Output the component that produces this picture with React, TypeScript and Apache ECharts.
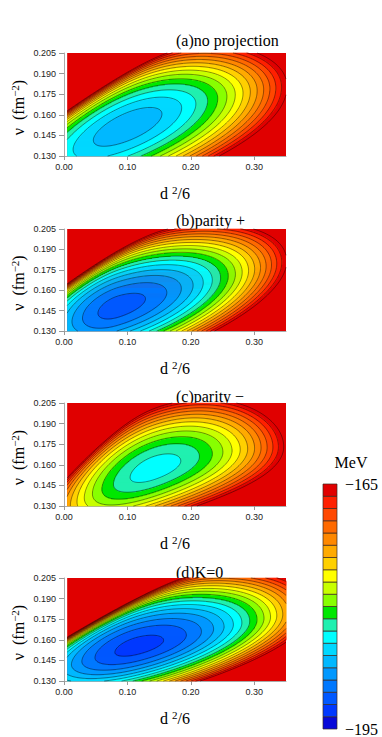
import React, { useEffect, useRef } from 'react';
import * as echarts from 'echarts';

// ---------- data ----------
const panelTitles = ['(a)no projection', '(b)parity +', '(c)parity \u2212', '(d)K=0'];
const xTicks = [0, 0.1, 0.2, 0.3];
const yTicks = [0.13, 0.145, 0.16, 0.175, 0.19, 0.205];
const colorbarTicks = [-195, -165];
const levelStart = -195;
const levelStep = 1.5;
const levelCount = 20;
// band colours from the lowest (-195) to the highest (-165) band
const bandColors = [
  '#0808d8', '#0038ff', '#0058ff', '#0078ff', '#0098ff', '#00b8ff', '#00d8ff', '#00ffff', '#20f0b0', '#00e800',
  '#88ff00', '#c8ff00', '#ffff00', '#ffd000', '#ffaa00', '#ff8800', '#ff6a00', '#ff4800', '#ff2000', '#e00000',
];
// energy-surface shape (a..d)
const minX = [0.101, 0.085, 0.142, 0.116];
const minY = [0.152, 0.1476, 0.157, 0.155];
const minE = [-187.0, -191.2, -183.8, -192.6];
const valleyLeftY = [0.133, 0.136, 0.1296, 0.142];
const valleyRightY = [0.18, 0.18, 0.173, 0.178];
const curvLeft = [330, 700, 560, 455];
const curvRight = [350, 370, 450, 355];
const stiffDown = [8300, 12300, 13200, 19000];
const stiffUp = [10000, 10500, 9500, 12000];
const wallY0 = [0.1498, 0.1502, 0.141, 0.1478];
const wallSlope = [0.317, 0.333, 0.45, 0.27];
const wallWidth = [0.005, 0.005, 0.005, 0.0045];
const domainX = [0.005, 0.35];
const domainY = [0.13, 0.205];

const SANS = '"Liberation Sans", Arial, sans-serif';
const SERIF = '"Liberation Serif", "Times New Roman", serif';

function valleyY(p: number, x: number) {
  const xa = 0.005, xb = minX[p], xc = 0.34;
  const ya = valleyLeftY[p], yb = minY[p], yc = valleyRightY[p];
  return (
    ya * ((x - xb) * (x - xc)) / ((xa - xb) * (xa - xc)) +
    yb * ((x - xa) * (x - xc)) / ((xb - xa) * (xb - xc)) +
    yc * ((x - xa) * (x - xb)) / ((xc - xa) * (xc - xb))
  );
}

function energy(p: number, x: number, y: number) {
  const u = x - minX[p];
  const v = y - valleyY(p, x);
  const a = u < 0 ? curvLeft[p] : curvRight[p];
  const b = v < 0 ? stiffDown[p] : stiffUp[p];
  const wall = Math.exp((y - wallY0[p] - wallSlope[p] * x) / wallWidth[p]);
  return minE[p] + a * u * u + b * v * v + wall;
}

function bandOf(e: number) {
  const b = Math.floor((e - levelStart) / levelStep);
  return Math.max(0, Math.min(levelCount - 1, b));
}

type Run = { x0: number; x1: number; y0: number; y1: number; b: number };

function buildRuns(p: number): Run[] {
  const NX = 330, NY = 103;
  const dx = (domainX[1] - domainX[0]) / NX;
  const dy = (domainY[1] - domainY[0]) / NY;
  const runs: Run[] = [];
  for (let j = 0; j < NY; j++) {
    const yc = domainY[0] + (j + 0.5) * dy;
    let start = 0;
    let cur = bandOf(energy(p, domainX[0] + 0.5 * dx, yc));
    for (let i = 1; i <= NX; i++) {
      const b = i < NX ? bandOf(energy(p, domainX[0] + (i + 0.5) * dx, yc)) : -1;
      if (b !== cur) {
        if (cur !== levelCount - 1) {
          runs.push({ x0: domainX[0] + start * dx, x1: domainX[0] + i * dx, y0: domainY[0] + j * dy, y1: domainY[0] + (j + 1) * dy, b: cur });
        }
        start = i;
        cur = b;
      }
    }
  }
  return runs;
}

function buildContours(p: number): number[][][] {
  const NX = 220, NY = 120;
  const xs: number[] = [], ys: number[] = [];
  for (let i = 0; i < NX; i++) xs.push(domainX[0] + (i * (domainX[1] - domainX[0])) / (NX - 1));
  for (let j = 0; j < NY; j++) ys.push(domainY[0] + (j * (domainY[1] - domainY[0])) / (NY - 1));
  const f: number[][] = ys.map((y) => xs.map((x) => energy(p, x, y)));
  const out: number[][][] = [];
  for (let l = 1; l <= levelCount; l++) {
    const level = levelStart + l * levelStep;
    const pts = new Map<string, number[]>();
    const segs: [string, string][] = [];
    const ep = (id: string, xa: number, ya: number, va: number, xb: number, yb: number, vb: number) => {
      if (!pts.has(id)) {
        const t = (level - va) / (vb - va);
        pts.set(id, [xa + t * (xb - xa), ya + t * (yb - ya)]);
      }
      return id;
    };
    for (let j = 0; j < NY - 1; j++) {
      for (let i = 0; i < NX - 1; i++) {
        const v0 = f[j][i], v1 = f[j][i + 1], v2 = f[j + 1][i + 1], v3 = f[j + 1][i];
        const c: string[] = [];
        if (v0 > level !== v1 > level) c.push(ep(`h${i},${j}`, xs[i], ys[j], v0, xs[i + 1], ys[j], v1));
        if (v1 > level !== v2 > level) c.push(ep(`v${i + 1},${j}`, xs[i + 1], ys[j], v1, xs[i + 1], ys[j + 1], v2));
        if (v3 > level !== v2 > level) c.push(ep(`h${i},${j + 1}`, xs[i], ys[j + 1], v3, xs[i + 1], ys[j + 1], v2));
        if (v0 > level !== v3 > level) c.push(ep(`v${i},${j}`, xs[i], ys[j], v0, xs[i], ys[j + 1], v3));
        if (c.length === 2) segs.push([c[0], c[1]]);
        else if (c.length === 4) {
          const m = (v0 + v1 + v2 + v3) / 4;
          if (m > level === v0 > level) {
            segs.push([c[0], c[1]]);
            segs.push([c[2], c[3]]);
          } else {
            segs.push([c[0], c[3]]);
            segs.push([c[1], c[2]]);
          }
        }
      }
    }
    const adj = new Map<string, number[]>();
    segs.forEach((s, idx) => {
      for (const e of s) {
        if (!adj.has(e)) adj.set(e, []);
        adj.get(e)!.push(idx);
      }
    });
    const used = new Array(segs.length).fill(false);
    const walk = (startEdge: string, chain: string[]) => {
      let cur = startEdge;
      for (;;) {
        const cand = (adj.get(cur) || []).find((t) => !used[t]);
        if (cand === undefined) break;
        used[cand] = true;
        const nxt = segs[cand][0] === cur ? segs[cand][1] : segs[cand][0];
        chain.push(nxt);
        cur = nxt;
      }
    };
    for (let s = 0; s < segs.length; s++) {
      if (used[s]) continue;
      used[s] = true;
      const fwd: string[] = [segs[s][1]];
      walk(segs[s][1], fwd);
      const bwd: string[] = [segs[s][0]];
      walk(segs[s][0], bwd);
      const chain = bwd.reverse().concat(fwd);
      out.push(chain.map((id) => pts.get(id)!));
    }
  }
  return out;
}

const gridBoxes = [
  { left: 64, top: 53, width: 222, height: 103 },
  { left: 64, top: 229, width: 222, height: 102 },
  { left: 64, top: 403, width: 222, height: 103 },
  { left: 64, top: 578, width: 222, height: 103 },
];
const titleY = [40.5, 220, 396, 572];

export default function App() {
  const ref = useRef<HTMLDivElement>(null);
  useEffect(() => {
    if (!ref.current) return;
    const chart = echarts.init(ref.current, undefined, { renderer: 'svg' });
    const panels = [0, 1, 2, 3].map((p) => ({ runs: buildRuns(p), lines: buildContours(p) }));

    const grids: any[] = gridBoxes.map((g) => ({ ...g }));
    grids.push({ left: 323, top: 484, width: 14, height: 251 });

    const xAxes: any[] = gridBoxes.map((_, i) => ({
      type: 'value', gridIndex: i, min: 0, max: 0.35,
      axisLine: { show: true, lineStyle: { color: '#aaa', width: 1 } },
      axisTick: { show: true, length: 4, customValues: xTicks, lineStyle: { color: '#999' } },
      axisLabel: { customValues: xTicks, formatter: (v: number) => v.toFixed(2), fontSize: 9, fontFamily: SANS, color: '#222', margin: 6 },
      splitLine: { show: false },
    }));
    xAxes.push({ type: 'value', gridIndex: 4, min: 0, max: 1, show: false });
    const yAxes: any[] = gridBoxes.map((_, i) => ({
      type: 'value', gridIndex: i, min: 0.13, max: 0.205,
      axisLine: { show: true, lineStyle: { color: '#aaa', width: 1 } },
      axisTick: { show: true, length: 5, customValues: yTicks, lineStyle: { color: '#999' } },
      axisLabel: { customValues: yTicks, formatter: (v: number) => v.toFixed(3), fontSize: 9, fontFamily: SANS, color: '#222', margin: 8 },
      splitLine: { show: false },
    }));
    yAxes.push({
      type: 'value', gridIndex: 4, min: -195, max: -165, position: 'right',
      axisLine: { show: false }, axisTick: { show: false }, splitLine: { show: false },
      axisLabel: { customValues: colorbarTicks, formatter: (v: number) => '\u2212' + Math.abs(v), fontSize: 16, fontFamily: SERIF, color: '#000', margin: 8 },
    });

    const series: any[] = panels.map((pd, p) => ({
      type: 'custom', xAxisIndex: p, yAxisIndex: p, silent: true, clip: false,
      data: [[minX[p], minY[p]]],
      renderItem: (params: any, api: any) => {
        const children: any[] = [];
        const tl = api.coord([domainX[0], domainY[1]]);
        const br = api.coord([domainX[1], domainY[0]]);
        children.push({ type: 'rect', shape: { x: tl[0], y: tl[1], width: br[0] - tl[0], height: br[1] - tl[1] }, style: { fill: bandColors[levelCount - 1] } });
        for (const r of pd.runs) {
          const a = api.coord([r.x0, r.y1]);
          const b = api.coord([r.x1, r.y0]);
          children.push({ type: 'rect', shape: { x: a[0], y: a[1] - 0.3, width: b[0] - a[0] + 0.4, height: b[1] - a[1] + 0.6 }, style: { fill: bandColors[r.b] } });
        }
        for (const line of pd.lines) {
          children.push({ type: 'polyline', shape: { points: line.map((pt) => api.coord(pt)) }, style: { stroke: '#000', fill: null, lineWidth: 0.5, opacity: 0.85 } });
        }
        return { type: 'group', children };
      },
    }));
    const bandLows = bandColors.map((_, i) => levelStart + i * levelStep);
    series.push({
      type: 'custom', xAxisIndex: 4, yAxisIndex: 4, silent: true,
      data: bandLows.map((lo, i) => [0, lo, i]),
      renderItem: (params: any, api: any) => {
        const lo = api.value(1);
        const i = api.value(2);
        const a = api.coord([0, lo + levelStep]);
        const b = api.coord([1, lo]);
        return { type: 'rect', shape: { x: a[0], y: a[1], width: b[0] - a[0], height: b[1] - a[1] }, style: { fill: bandColors[i], stroke: '#3a2a20', lineWidth: 0.7 } };
      },
    });

    const serifRich = {
      t: { fontSize: 16, fontFamily: SERIF, fill: '#000', lineHeight: 18 },
      s: { fontSize: 11, fontFamily: SERIF, fill: '#000', lineHeight: 10, verticalAlign: 'top' },
    };
    const graphic: any[] = [];
    gridBoxes.forEach((g, p) => {
      graphic.push({ type: 'text', x: 176, y: titleY[p], style: { text: panelTitles[p], fill: '#000', font: `16px ${SERIF}`, align: 'left', verticalAlign: 'middle' } });
      graphic.push({ type: 'text', x: 175, y: g.top + g.height + 37, style: { text: '{t|d }{s|2}{t|/6}', rich: serifRich, align: 'center', verticalAlign: 'middle' } });
      graphic.push({ type: 'text', x: 18, y: g.top + g.height / 2 + 3, rotation: Math.PI / 2, style: { text: '{t|\u03bd  (fm}{s|\u22122}{t|)}', rich: serifRich, align: 'center', verticalAlign: 'middle' } });
    });
    graphic.push({ type: 'text', x: 351, y: 462, style: { text: 'MeV', fill: '#000', font: `16px ${SERIF}`, align: 'center', verticalAlign: 'middle' } });

    chart.setOption({ animation: false, backgroundColor: '#fff', grid: grids, xAxis: xAxes, yAxis: yAxes, series, graphic });
    return () => chart.dispose();
  }, []);
  return <div ref={ref} style={{ position: 'absolute', left: 0, top: 0, width: 382, height: 737 }} />;
}
